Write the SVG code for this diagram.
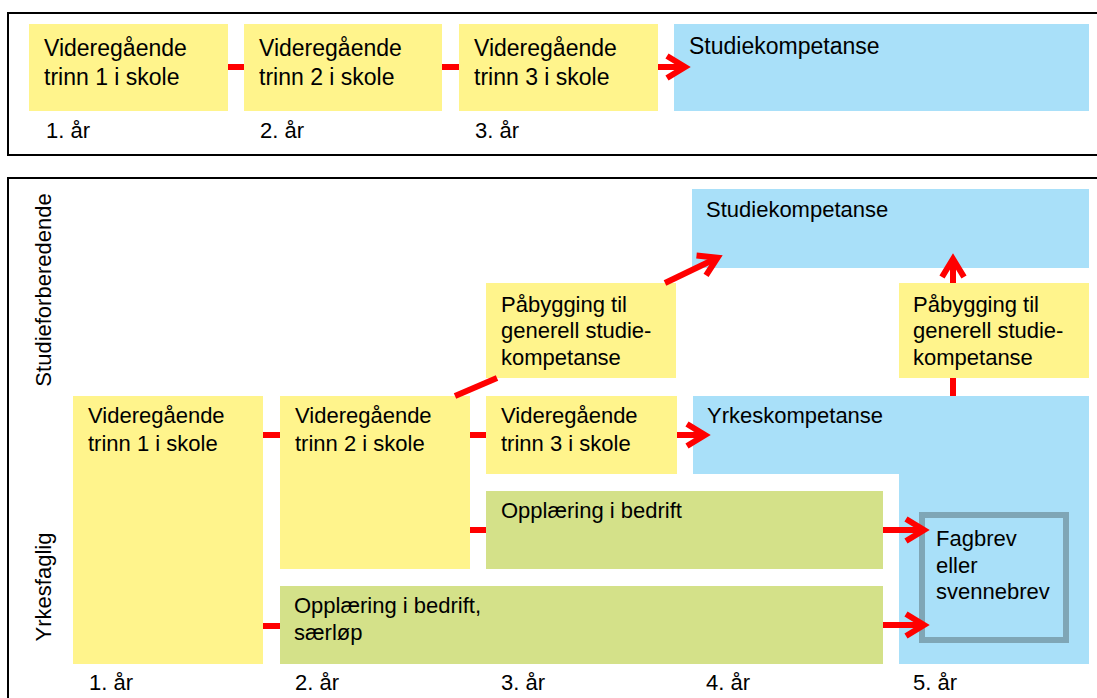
<svg xmlns="http://www.w3.org/2000/svg" width="1097" height="698" viewBox="0 0 1097 698">
<defs>
<style>
.y{fill:#FFF48C}
.b{fill:#A9E0F9}
.g{fill:#D4E189}
.frame{fill:none;stroke:#000;stroke-width:2}
text{font-family:"Liberation Sans",Arial,sans-serif;fill:#000}
.t23{font-size:23px}
.t22{font-size:22px}
.c{stroke:#FF0000;stroke-width:6;fill:none}
.a{marker-end:url(#ah)}
</style>
<marker id="ah" viewBox="-30 -16 40 32" refX="0" refY="0" markerWidth="40" markerHeight="32" markerUnits="userSpaceOnUse" orient="auto" overflow="visible">
<path d="M-18,-11 L0,0 L-18,11" fill="none" stroke="#FF0000" stroke-width="6" stroke-linejoin="miter"/>
</marker>
</defs>
<rect width="1097" height="698" fill="#fff"/>
<rect class="frame" x="8" y="13" width="1100" height="142"/>
<rect class="frame" x="8" y="178" width="1100" height="540"/>

<g id="top-v1"><rect class="y" x="29" y="24" width="199" height="87"/><text class="t23" x="44" y="56">Videregående</text><text class="t23" x="44" y="85">trinn 1 i skole</text></g>
<g id="top-v2"><rect class="y" x="244" y="24" width="198" height="87"/><text class="t23" x="259" y="56">Videregående</text><text class="t23" x="259" y="85">trinn 2 i skole</text></g>
<g id="top-v3"><rect class="y" x="459" y="24" width="199" height="87"/><text class="t23" x="474" y="56">Videregående</text><text class="t23" x="474" y="85">trinn 3 i skole</text></g>
<g id="top-studie"><rect class="b" x="674" y="24" width="415" height="87"/><text class="t23" x="689" y="54">Studiekompetanse</text></g>
<g id="top-years"><text class="t22" x="46" y="138">1. år</text><text class="t22" x="260" y="138">2. år</text><text class="t22" x="475" y="138">3. år</text></g>

<g id="lbl-studieforb"><text class="t22" transform="translate(51,290) rotate(-90)" text-anchor="middle">Studieforberedende</text></g>
<g id="lbl-yrkesfaglig"><text class="t22" transform="translate(51,587) rotate(-90)" text-anchor="middle">Yrkesfaglig</text></g>

<g id="v1"><rect class="y" x="73" y="396" width="190" height="268"/><text class="t22" x="88" y="423">Videregående</text><text class="t22" x="88" y="451">trinn 1 i skole</text></g>
<g id="v2"><rect class="y" x="280" y="396" width="190" height="173"/><text class="t22" x="295" y="423">Videregående</text><text class="t22" x="295" y="451">trinn 2 i skole</text></g>
<g id="v3"><rect class="y" x="486" y="396" width="191" height="78"/><text class="t22" x="501" y="423">Videregående</text><text class="t22" x="501" y="451">trinn 3 i skole</text></g>
<g id="pab1"><rect class="y" x="486" y="283" width="190" height="95"/><text class="t22" x="501" y="312">Påbygging til</text><text class="t22" x="501" y="338">generell studie-</text><text class="t22" x="501" y="365">kompetanse</text></g>
<g id="pab2"><rect class="y" x="899" y="283" width="190" height="95"/><text class="t22" x="913" y="312">Påbygging til</text><text class="t22" x="913" y="338">generell studie-</text><text class="t22" x="913" y="365">kompetanse</text></g>
<g id="studie"><rect class="b" x="692" y="189" width="397" height="79"/><text class="t22" x="706" y="217">Studiekompetanse</text></g>
<g id="yrkes"><path class="b" d="M693,396 H1089 V664 H899 V474 H693 Z"/><text class="t22" x="707" y="423">Yrkeskompetanse</text></g>
<g id="oppl"><rect class="g" x="486" y="491" width="397" height="78"/><text class="t22" x="501" y="518">Opplæring i bedrift</text></g>
<g id="oppl-saer"><rect class="g" x="280" y="586" width="603" height="78"/><text class="t22" x="294" y="613">Opplæring i bedrift,</text><text class="t22" x="294" y="640">særløp</text></g>
<g id="fagbrev"><rect x="922" y="515" width="144" height="125" fill="#A9E0F9" stroke="#7FA6B6" stroke-width="6"/><text class="t22" x="936" y="546">Fagbrev</text><text class="t22" x="936" y="573">eller</text><text class="t22" x="936" y="599">svennebrev</text></g>
<g id="bottom-years"><text class="t22" x="89" y="690">1. år</text><text class="t22" x="295" y="690">2. år</text><text class="t22" x="501" y="690">3. år</text><text class="t22" x="706" y="690">4. år</text><text class="t22" x="913" y="690">5. år</text></g>

<g id="connectors">
<line class="c" x1="228" y1="67" x2="244" y2="67"/>
<line class="c" x1="442" y1="67" x2="459" y2="67"/>
<line class="c a" x1="658" y1="67" x2="685" y2="67"/>
<line class="c" x1="263" y1="435" x2="280" y2="435"/>
<line class="c" x1="263" y1="626" x2="280" y2="626"/>
<line class="c" x1="470" y1="435" x2="486" y2="435"/>
<line class="c" x1="470" y1="530" x2="486" y2="530"/>
<line class="c a" x1="677" y1="435" x2="705" y2="435"/>
<line class="c a" x1="883" y1="530" x2="924" y2="530"/>
<line class="c a" x1="883" y1="625" x2="924" y2="625"/>
<line class="c" x1="455" y1="396" x2="497" y2="378"/>
<line class="c a" x1="665" y1="283" x2="717.5" y2="257.7"/>
<line class="c" x1="953" y1="396" x2="953" y2="378"/>
<line class="c a" x1="953" y1="283" x2="953" y2="259"/>
</g>
</svg>
